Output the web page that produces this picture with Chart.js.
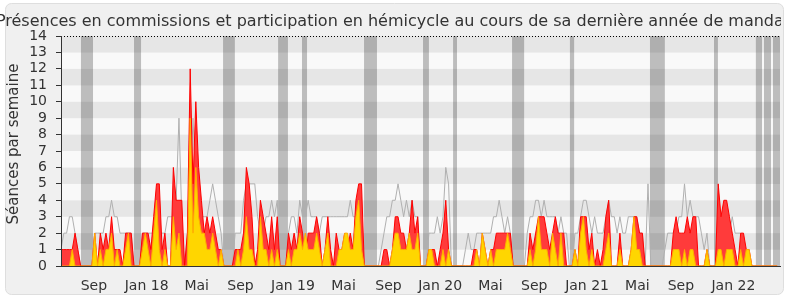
<!DOCTYPE html>
<html lang="fr">
<head>
<meta charset="utf-8">
<title>Présences en commissions et participation en hémicycle</title>
<script src="https://cdn.jsdelivr.net/npm/chart.js@4.4.1/dist/chart.umd.min.js"></script>
<style>
    html, body { margin: 0; padding: 0; background: #fff; }
    #wrap { width: 790px; height: 300px; }
</style>
</head>
<body>
<div id="wrap"><canvas id="presenceChart" width="790" height="300"></canvas></div>
<script>
/* === Activité hebdomadaire : commissions + hémicycle === */

// Séances par semaine (une valeur par semaine, semaine 0 = mi-juin 2017)
const seancesTotal = [
    1,1,1,1,1,2,1,0,0,0, 0,0,2,0,2,1,2,1,3,1, 1,1,0,2,2,2,0,0,0,2,
    2,2,1,3,5,5,1,2,0,0, 6,4,4,4,0,2,12,5,10,6, 4,2,3,2,3,2,1,1,0,0,
    0,0,1,1,1,2,6,5,3,0, 1,4,3,2,1,3,1,3,0,0, 0,2,1,2,1,3,2,0,2,2,
    2,3,2,0,1,3,1,0,2,1, 1,2,1,2,1,4,5,5,0,0, 0,0,0,0,0,1,1,0,1,3,
    3,2,2,1,2,4,2,3,0,0, 0,1,1,1,0,1,2,4,1,0, 0,0,0,0,0,0,0,1,1,0,
    2,1,0,1,1,2,2,2,2,2, 2,0,0,0,0,0,0,2,1,2, 3,3,3,2,1,2,3,2,2,2,
    0,0,0,1,0,3,3,3,1,2, 0,1,0,1,3,4,0,0,0,2, 0,0,0,1,3,3,2,2,0,0,
    0,0,0,0,0,0,0,0,2,3, 2,2,2,3,2,3,3,0,0,0, 1,0,0,0,5,3,4,4,3,2,
    1,0,2,2,1,1,0,0,0,0, 0,0,0,0,0,0
];
const seancesCommission = [
    0,0,0,0,1,0,0,0,0,0, 0,0,2,0,1,0,1,1,2,0, 1,0,0,1,2,0,0,0,0,1,
    2,1,0,2,4,1,0,1,0,0, 3,1,2,0,0,0,9,2,6,3, 2,2,1,1,2,1,0,1,0,0,
    0,0,0,1,0,1,3,1,1,0, 0,3,1,1,0,1,0,1,0,0, 0,1,0,1,1,2,1,2,1,1,
    1,2,1,0,1,2,0,0,0,1, 1,2,2,1,1,3,4,1,0,0, 0,0,0,0,0,0,0,0,1,2,
    2,1,1,1,2,1,1,2,0,0, 0,1,1,0,0,0,1,0,1,0, 0,0,0,0,0,0,0,0,1,0,
    2,1,0,1,0,1,1,1,1,2, 1,0,0,0,0,0,0,1,0,1, 3,1,1,1,0,2,1,0,2,0,
    0,0,0,1,0,2,3,1,0,1, 0,0,0,0,1,2,0,0,0,1, 0,0,0,1,3,1,1,0,0,0,
    0,0,0,0,0,0,0,0,1,1, 1,0,1,0,1,1,0,0,0,0, 1,0,0,0,1,1,0,1,1,1,
    0,0,1,0,1,1,0,0,0,0, 0,0,0,0,0,0
];
const medianeDeputes = [
    1,2,2,3,3,2,1,0,0,0, 0,0,2,2,2,2,3,3,4,3, 3,2,2,2,2,2,0,0,0,2,
    2,2,2,2,2,2,2,2,3,3, 3,4,9,3,0,2,4,9,5,4, 3,3,3,4,5,4,3,2,0,0,
    0,0,2,2,2,4,5,5,5,5, 3,2,2,3,3,4,3,4,0,0, 0,2,3,3,2,4,3,3,4,3,
    3,3,2,3,3,3,3,3,3,3, 3,3,3,4,3,3,3,2,0,0, 0,0,0,0,1,2,3,3,4,4,
    5,4,3,4,3,4,3,3,0,0, 0,2,2,2,3,2,3,6,5,0, 0,0,0,0,1,2,1,1,2,2,
    2,2,2,2,3,3,4,3,2,3, 2,0,0,0,0,0,2,3,3,4, 4,3,4,3,3,3,3,2,3,2,
    2,0,0,2,2,3,4,4,3,2, 3,2,2,2,3,4,3,3,2,3, 2,2,3,3,3,3,2,2,0,5,
    0,0,0,0,0,1,2,2,2,2, 3,3,5,3,4,3,3,3,2,1, 2,0,0,0,3,3,3,3,2,3,
    2,2,2,1,0,0,0,0,0,0, 0,0,0,0,0,0
];

// Vacances parlementaires [début, fin] en semaines
const vacances = [
    [7.1, 11.4], [26.0, 28.5], [57.7, 61.9], [77.3, 80.8], [85.8, 87.6],
    [107.9, 112.5], [128.9, 131.0], [139.6, 141.0], [160.6, 164.9], [181.2, 182.7],
    [209.7, 215.0], [232.5, 233.9], [247.4, 249.6], [250.3, 252.8], [253.5, 256]
];

// Axe des mois
const moisPositions = [11.7, 30.5, 48.3, 63.9, 82.6, 100.6, 116.6, 135.0, 152.9, 168.5, 187.3, 205.2, 220.7, 239.4];
const moisLabels = ['Sep', 'Jan 18', 'Mai', 'Sep', 'Jan 19', 'Mai', 'Sep', 'Jan 20', 'Mai', 'Sep', 'Jan 21', 'Mai', 'Sep', 'Jan 22'];

const titre = 'Présences en commissions et participation en hémicycle au cours de sa dernière année de mandat';
const titreAxe = 'Séances par semaine';

const FONT = '"DejaVu Sans", Verdana, sans-serif';
const toPoints = arr => arr.map((v, i) => ({ x: i, y: v }));

// Fond, bandes et titres dessinés à la main
const fondPlugin = {
    id: 'fond',
    beforeDraw(chart) {
        const { ctx, chartArea: a, scales: { x, y } } = chart;
        ctx.save();
        ctx.fillStyle = '#fff';
        ctx.fillRect(0, 0, chart.width, chart.height);

        // cadre arrondi
        const bx = 5.5, by = 3.5, bw = 778, bh = 291, r = 6;
        ctx.beginPath();
        ctx.moveTo(bx + r, by);
        ctx.arcTo(bx + bw, by, bx + bw, by + bh, r);
        ctx.arcTo(bx + bw, by + bh, bx, by + bh, r);
        ctx.arcTo(bx, by + bh, bx, by, r);
        ctx.arcTo(bx, by, bx + bw, by, r);
        ctx.closePath();
        ctx.fillStyle = '#f0f0f0';
        ctx.fill();
        ctx.strokeStyle = '#dedede';
        ctx.stroke();

        // bandes horizontales alternées
        for (let v = 0; v < 14; v++) {
            const top = y.getPixelForValue(v + 1);
            const bot = y.getPixelForValue(v);
            ctx.fillStyle = v % 2 ? '#e6e6e6' : '#f9f9f9';
            ctx.fillRect(a.left, top, a.right - a.left, bot - top);
        }

        // vacances
        ctx.fillStyle = 'rgba(0, 0, 0, 0.24)';
        vacances.forEach(([d, f]) => {
            const x0 = x.getPixelForValue(d);
            const x1 = x.getPixelForValue(f);
            ctx.fillRect(x0, a.top, x1 - x0, a.bottom - a.top);
        });

        // ligne pointillée en haut
        ctx.setLineDash([1, 2]);
        ctx.strokeStyle = '#000';
        ctx.lineWidth = 1;
        ctx.beginPath();
        ctx.moveTo(a.left, a.top + 0.5);
        ctx.lineTo(a.right, a.top + 0.5);
        ctx.stroke();
        ctx.restore();
    },
    afterDraw(chart) {
        const { ctx } = chart;
        ctx.save();
        ctx.beginPath();
        ctx.rect(0, 0, 781, chart.height);
        ctx.clip();
        ctx.fillStyle = '#333';
        ctx.font = '16px ' + FONT;
        ctx.textAlign = 'center';
        ctx.textBaseline = 'alphabetic';
        ctx.fillText(titre, 393, 26);
        ctx.restore();

        ctx.save();
        ctx.translate(18, 144);
        ctx.rotate(-Math.PI / 2);
        ctx.fillStyle = '#333';
        ctx.font = '15px ' + FONT;
        ctx.textAlign = 'center';
        ctx.textBaseline = 'alphabetic';
        ctx.fillText(titreAxe, 0, 0);
        ctx.restore();
    }
};

new Chart(document.getElementById('presenceChart'), {
    type: 'line',
    data: {
        datasets: [
            {
                label: 'Présences en commission',
                data: toPoints(seancesCommission),
                borderColor: '#ffae00',
                backgroundColor: '#ffd600',
                borderWidth: 1,
                fill: 'origin',
                pointRadius: 0,
                tension: 0,
                order: 1
            },
            {
                label: 'Participation en hémicycle',
                data: toPoints(seancesTotal),
                borderColor: '#ff0000',
                backgroundColor: '#ff3b3b',
                borderWidth: 1,
                fill: 'origin',
                pointRadius: 0,
                tension: 0,
                order: 2
            },
            {
                label: 'Médiane des députés',
                data: toPoints(medianeDeputes),
                borderColor: '#b0b0b0',
                borderWidth: 1,
                fill: false,
                pointRadius: 0,
                tension: 0,
                order: 3
            }
        ]
    },
    options: {
        responsive: false,
        devicePixelRatio: 1,
        animation: false,
        layout: { padding: { top: 36, right: 10, bottom: 0, left: 0 } },
        plugins: {
            legend: { display: false },
            title: { display: false },
            tooltip: { enabled: false }
        },
        scales: {
            x: {
                type: 'linear',
                min: 0,
                max: 256,
                afterFit: s => { s.height = 34; },
                afterBuildTicks: s => { s.ticks = moisPositions.map(v => ({ value: v })); },
                grid: { display: false },
                border: { display: true, color: '#333', z: 1 },
                ticks: {
                    autoSkip: false,
                    maxRotation: 0,
                    padding: 4,
                    color: '#333',
                    font: { family: FONT, size: 14 },
                    callback: (v, i) => moisLabels[i]
                }
            },
            y: {
                min: 0,
                max: 14,
                afterFit: s => { s.width = 61; },
                grid: { drawOnChartArea: false, tickLength: 5, color: '#333' },
                border: { display: true, color: '#333', z: 1 },
                ticks: {
                    stepSize: 1,
                    autoSkip: false,
                    padding: 9,
                    color: '#333',
                    font: { family: FONT, size: 14 }
                }
            }
        }
    },
    plugins: [fondPlugin]
});
</script>
</body>
</html>
